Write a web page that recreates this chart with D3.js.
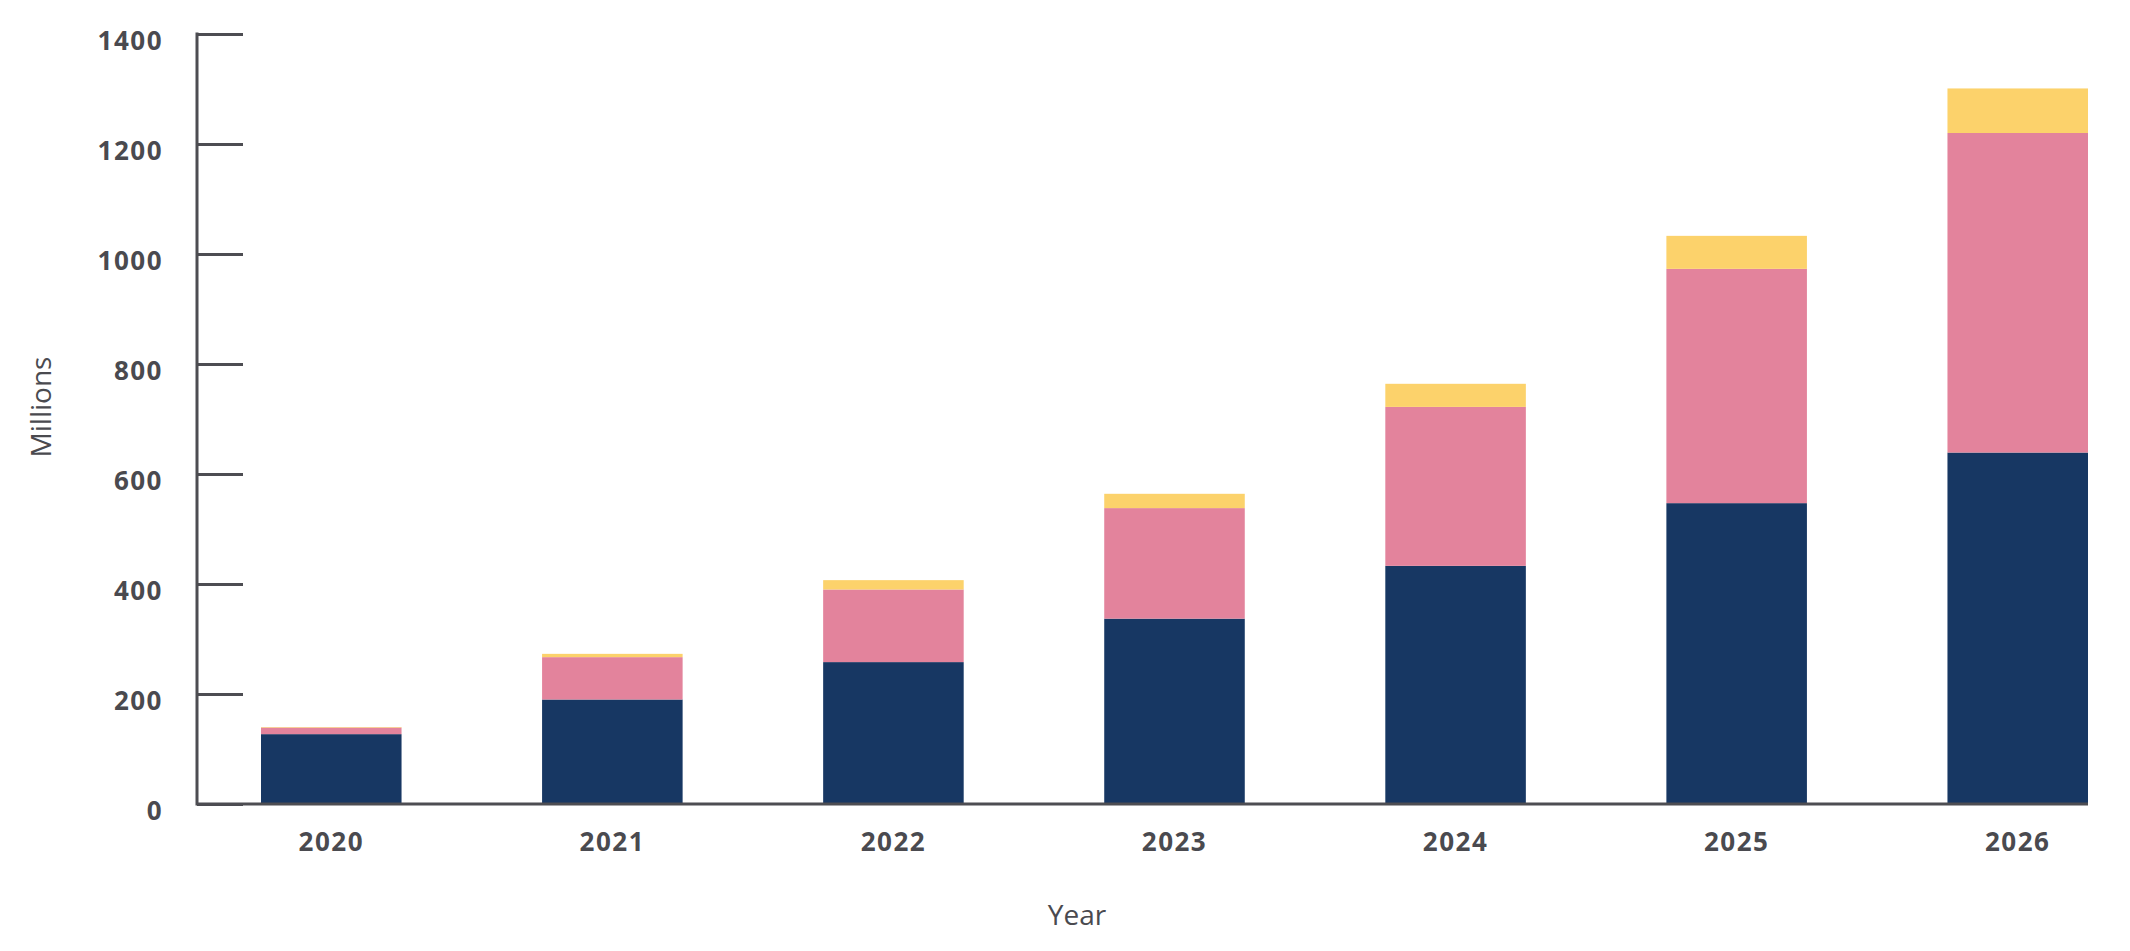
<!DOCTYPE html>
<html>
<head>
<meta charset="utf-8">
<script src="https://cdn.jsdelivr.net/npm/d3@7"></script>
<style>
  body { margin: 0; background: #fff; }
  text { font-family: "Open Sans", "Noto Sans", sans-serif; fill: #4a4a4f; }
</style>
</head>
<body>
<svg id="chart"></svg>
<script>
// data (millions)
var years = ["2020", "2021", "2022", "2023", "2024", "2025", "2026"];
var navy = [127, 190, 258, 337, 433, 547, 639];
var pink = [12, 77, 132, 201, 289, 426, 581];
var yellow = [1, 6, 17, 26, 42, 60, 81];
var yTicks = [0, 200, 400, 600, 800, 1000, 1200, 1400];
var seriesKeys = ["navy", "pink", "yellow"];
var colors = ["#173763", "#e3839c", "#fcd26b"];

var width = 2130, height = 951;
var axisX = 197, baseY = 804, topY = 34;

var data = years.map(function(y, i) {
  return { year: y, navy: navy[i], pink: pink[i], yellow: yellow[i] };
});

var svg = d3.select("#chart").attr("width", width).attr("height", height);

var x = d3.scaleBand()
  .domain(years)
  .range([261, 2088])
  .paddingInner(0.5)
  .paddingOuter(0);

var y = d3.scaleLinear()
  .domain([0, 1400])
  .range([baseY, topY]);

var stack = d3.stack().keys(seriesKeys);

//stacked bars
svg.append("g").selectAll("g")
  .data(stack(data))
  .enter().append("g")
    .attr("fill", function(d, i) { return colors[i]; })
  .selectAll("rect")
  .data(function(d) { return d; })
  .enter().append("rect")
    .attr("x", function(d) { return x(d.data.year); })
    .attr("y", function(d) { return y(d[1]); })
    .attr("width", x.bandwidth())
    .attr("height", function(d) { return y(d[0]) - y(d[1]); });

//y axis, ticks pointing inward
var yAxis = svg.append("g")
  .attr("transform", "translate(" + axisX + ",0)")
  .call(d3.axisRight(y).tickValues(yTicks).tickSize(46).tickFormat(""));
yAxis.select(".domain").remove();
yAxis.selectAll(".tick line").attr("stroke", "#4d4d52").attr("stroke-width", 3);

svg.append("line")
  .attr("x1", axisX).attr("x2", axisX)
  .attr("y1", y(1400) - 1.5).attr("y2", baseY + 1.5)
  .attr("stroke", "#4d4d52").attr("stroke-width", 3);

svg.append("g").selectAll("text")
  .data(yTicks)
  .enter().append("text")
    .attr("x", 163)
    .attr("y", function(d) { return y(d) + 16; })
    .attr("text-anchor", "end")
    .style("font-size", "26px")
    .style("font-weight", 700)
    .style("letter-spacing", "1.5px")
    .text(function(d) { return d; });

//x axis
svg.append("line")
  .attr("x1", axisX).attr("x2", x.range()[1])
  .attr("y1", baseY).attr("y2", baseY)
  .attr("stroke", "#4d4d52").attr("stroke-width", 3);

svg.append("g").selectAll("text")
  .data(years)
  .enter().append("text")
    .attr("x", function(d) { return x(d) + x.bandwidth() / 2; })
    .attr("y", 851)
    .attr("text-anchor", "middle")
    .style("font-size", "26px")
    .style("font-weight", 700)
    .style("letter-spacing", "1.5px")
    .text(function(d) { return d; });

//axis titles
svg.append("text")
  .attr("transform", "translate(51,407) rotate(-90)")
  .attr("text-anchor", "middle")
  .style("font-size", "28px")
  .style("font-weight", 400)
  .text("Millions");

svg.append("text")
  .attr("x", 1077)
  .attr("y", 925)
  .attr("text-anchor", "middle")
  .style("font-size", "28px")
  .style("font-weight", 400)
  .text("Year");
</script>
</body>
</html>
